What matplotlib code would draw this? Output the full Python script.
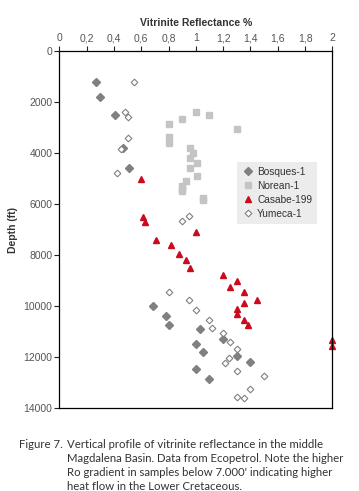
import matplotlib
matplotlib.use("Agg")
import matplotlib.pyplot as plt
from matplotlib.ticker import FuncFormatter

# Vitrinite reflectance (%) and depth (ft) for each well
bosques_ro = [0.27, 0.30, 0.41, 0.47, 0.51, 0.69, 0.78, 0.80, 1.03, 1.00, 1.05, 1.20, 1.30, 1.40, 1.00, 1.10]
bosques_depth = [1200, 1800, 2500, 3800, 4600, 10000, 10400, 10750, 10900, 11500, 11800, 11300, 11950, 12200, 12450, 12850]

norean_ro = [1.00, 1.10, 0.90, 0.80, 1.30, 0.80, 0.80, 0.96, 0.98, 0.96, 1.01, 0.96, 1.01, 0.93, 0.90, 0.90, 0.90, 1.05, 1.05]
norean_depth = [2400, 2500, 2650, 2850, 3050, 3380, 3600, 3800, 4000, 4200, 4400, 4600, 4900, 5100, 5300, 5400, 5500, 5750, 5850]

casabe_ro = [0.60, 0.615, 0.63, 0.71, 0.82, 0.88, 1.00, 0.93, 0.96, 1.20, 1.30, 1.25, 1.35, 1.45, 1.35, 1.30, 1.30, 1.35, 1.38, 2.0, 2.0]
casabe_depth = [5000, 6500, 6700, 7400, 7600, 7950, 7100, 8200, 8500, 8800, 9000, 9250, 9450, 9750, 9900, 10100, 10300, 10550, 10750, 11350, 11550]

yumeca_ro = [0.545, 0.485, 0.50, 0.50, 0.455, 0.42, 0.90, 0.95, 0.80, 0.95, 1.00, 1.10, 1.12, 1.20, 1.25, 1.30, 1.24, 1.21, 1.30, 1.50, 1.40, 1.30, 1.35]
yumeca_depth = [1230, 2400, 2600, 3400, 3850, 4800, 6650, 6450, 9450, 9750, 10150, 10550, 10850, 11050, 11400, 11700, 12050, 12250, 12550, 12750, 13250, 13550, 13600]

plt.rcParams['font.family'] = ['Liberation Sans', 'DejaVu Sans']

fig = plt.figure(figsize=(3.59, 4.91), dpi=100)
ax = fig.add_axes([0.165, 0.169, 0.761, 0.727])

ax.plot(bosques_ro, bosques_depth, linestyle='none', marker='D', ms=4.2,
        color='#808080', mec='#808080', label='Bosques-1', clip_on=False)
ax.plot(norean_ro, norean_depth, linestyle='none', marker='s', ms=4.3,
        color='#c4c4c4', mec='#c4c4c4', label='Norean-1', clip_on=False)
ax.plot(casabe_ro, casabe_depth, linestyle='none', marker='^', ms=5,
        color='#cc0a1e', mec='#cc0a1e', label='Casabe-199', clip_on=False)
ax.plot(yumeca_ro, yumeca_depth, linestyle='none', marker='D', ms=3.4,
        mfc='white', mec='#808080', mew=0.8, label='Yumeca-1', clip_on=False)

ax.set_xlim(0, 2)
ax.set_ylim(14000, 0)
ax.set_xticks([i * 0.2 for i in range(11)])
ax.set_yticks(range(0, 14001, 2000))
ax.xaxis.set_major_formatter(FuncFormatter(lambda v, p: ('%g' % round(v, 1)).replace('.', ',')))
ax.xaxis.tick_top()
ax.xaxis.set_label_position('top')
ax.tick_params(axis='both', labelsize=7.5, length=3.5, width=0.8, colors='#222222', pad=2)
ax.tick_params(axis='x', labelcolor='#555555')
ax.tick_params(axis='y', labelcolor='#555555', pad=1.5)
for s in ax.spines.values():
    s.set_linewidth(0.9)

ax.set_xlabel('Vitrinite Reflectance %', fontsize=7.5, fontweight='bold', color='#333333', labelpad=5)
ax.set_ylabel('Depth (ft)', fontsize=7.5, fontweight='bold', color='#333333', labelpad=4)

leg = ax.legend(loc='upper left', bbox_to_anchor=(0.65, 0.69), fontsize=7.3, frameon=True,
                handletextpad=0.3, handlelength=1.2, borderpad=0.5, labelspacing=0.4,
                fancybox=False, borderaxespad=0)
leg.get_frame().set_facecolor('#e8e8e8')
leg.get_frame().set_edgecolor('none')
for t in leg.get_texts():
    t.set_color('#333333')

cap_font = ['Lato', 'DejaVu Sans']
fig.text(0.176, 0.105, 'Figure 7.', fontsize=8.2, family=cap_font, color='#333333',
         va='top', ha='right')
fig.text(0.187, 0.105,
         "Vertical profile of vitrinite reflectance in the middle\n"
         "Magdalena Basin. Data from Ecopetrol. Note the higher\n"
         "Ro gradient in samples below 7.000' indicating higher\n"
         "heat flow in the Lower Cretaceous.",
         fontsize=8.2, family=cap_font, color='#333333', va='top', linespacing=1.32)

fig.savefig('out.png', dpi=100)
